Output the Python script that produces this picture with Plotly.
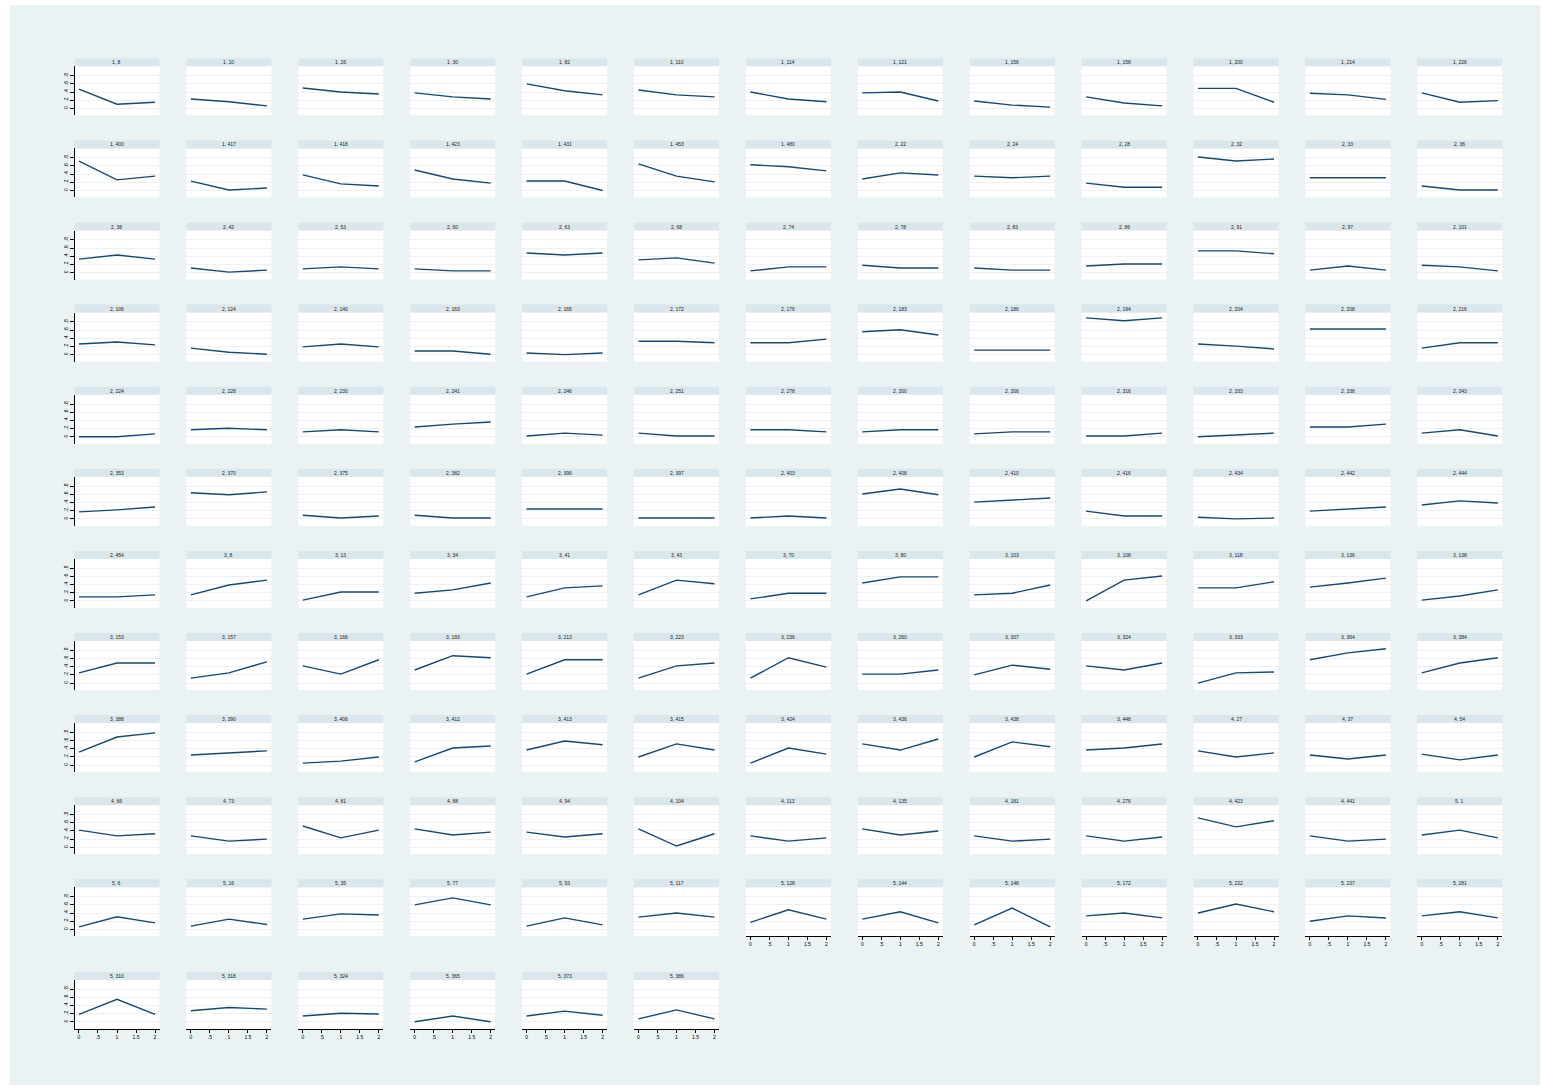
import math
import plotly.graph_objects as go

W, H = 1542, 1086

# x positions of the three observations in every panel
x_values = [0, 1, 2]

# axis ticks
y_ticks = [0, 0.2, 0.4, 0.6, 0.8]
y_tick_text = ["0", ".2", ".4", ".6", ".8"]
x_ticks = [0, 0.5, 1, 1.5, 2]
x_tick_text = ["0", ".5", "1", "1.5", "2"]

# panel headers (group, id)
panel_labels = [
    "1, 8", "1, 10", "1, 26", "1, 30", "1, 82", "1, 110", "1, 114", "1, 121", "1, 156", "1, 158", "1, 200", "1, 214", "1, 226",
    "1, 400", "1, 417", "1, 418", "1, 423", "1, 431", "1, 453", "1, 480", "2, 22", "2, 24", "2, 28", "2, 32", "2, 33", "2, 36",
    "2, 38", "2, 42", "2, 53", "2, 60", "2, 63", "2, 68", "2, 74", "2, 78", "2, 83", "2, 86", "2, 91", "2, 97", "2, 101",
    "2, 106", "2, 124", "2, 140", "2, 163", "2, 165", "2, 172", "2, 176", "2, 183", "2, 186", "2, 194", "2, 204", "2, 208", "2, 216",
    "2, 224", "2, 228", "2, 230", "2, 241", "2, 246", "2, 251", "2, 278", "2, 300", "2, 306", "2, 316", "2, 333", "2, 338", "2, 343",
    "2, 353", "2, 370", "2, 375", "2, 382", "2, 396", "2, 397", "2, 403", "2, 408", "2, 410", "2, 416", "2, 434", "2, 442", "2, 444",
    "2, 454", "3, 8", "3, 13", "3, 34", "3, 41", "3, 43", "3, 70", "3, 80", "3, 103", "3, 108", "3, 118", "3, 136", "3, 138",
    "3, 153", "3, 157", "3, 166", "3, 193", "3, 213", "3, 223", "3, 236", "3, 260", "3, 307", "3, 324", "3, 333", "3, 364", "3, 384",
    "3, 388", "3, 390", "3, 406", "3, 412", "3, 413", "3, 415", "3, 424", "3, 436", "3, 438", "3, 448", "4, 27", "4, 37", "4, 54",
    "4, 66", "4, 73", "4, 81", "4, 88", "4, 94", "4, 104", "4, 113", "4, 135", "4, 181", "4, 276", "4, 423", "4, 441", "5, 1",
    "5, 6", "5, 16", "5, 35", "5, 77", "5, 93", "5, 117", "5, 128", "5, 144", "5, 148", "5, 172", "5, 222", "5, 237", "5, 281",
    "5, 310", "5, 318", "5, 324", "5, 365", "5, 373", "5, 386",
]

# value at x = 0
value_t0 = [
    .47, .23, .50, .38, .60, .45, .40, .38, .18, .28, .49, .37, .38,
    .72, .23, .38, .50, .23, .65, .63, .28, .35, .18, .82, .31, .11,
    .33, .11, .09, .09, .48, .31, .04, .18, .11, .16, .53, .06, .18,
    .26, .16, .19, .09, .04, .33, .29, .56, .11, .90, .26, .63, .16,
    .00, .17, .12, .24, .02, .09, .17, .12, .07, .02, .00, .24, .09,
    .17, .64, .09, .09, .24, .02, .02, .61, .41, .19, .04, .19, .34,
    .10, .15, .02, .19, .10, .15, .05, .44, .15, .00, .32, .34, .02,
    .25, .12, .42, .32, .22, .12, .12, .22, .20, .42, .00, .57, .25,
    .32, .25, .05, .08, .37, .20, .05, .52, .20, .37, .35, .25, .27,
    .42, .28, .52, .45, .37, .45, .28, .45, .28, .28, .72, .28, .30,
    .06, .08, .25, .60, .08, .30, .17, .25, .11, .33, .40, .20, .33,
    .18, .27, .14, .00, .14, .07,
]

# value at x = 1
value_t1 = [
    .10, .16, .40, .28, .43, .33, .23, .40, .08, .13, .49, .33, .15,
    .26, .01, .16, .28, .23, .35, .58, .43, .31, .08, .72, .31, .01,
    .43, .01, .14, .04, .43, .36, .14, .11, .06, .21, .53, .16, .14,
    .31, .06, .26, .09, .00, .33, .29, .61, .11, .83, .21, .63, .29,
    .00, .21, .17, .31, .09, .02, .17, .17, .12, .02, .04, .24, .17,
    .22, .59, .02, .02, .24, .02, .07, .73, .46, .07, .00, .24, .44,
    .10, .39, .22, .27, .32, .51, .19, .59, .19, .51, .32, .44, .12,
    .49, .25, .22, .67, .57, .42, .62, .22, .44, .32, .25, .74, .49,
    .69, .30, .10, .42, .59, .52, .42, .37, .57, .42, .20, .15, .13,
    .28, .15, .23, .30, .25, .03, .15, .30, .15, .15, .50, .15, .42,
    .31, .25, .38, .77, .28, .40, .48, .43, .52, .40, .62, .33, .43,
    .55, .35, .21, .14, .26, .29,
]

# value at x = 2
value_t2 = [
    .15, .06, .35, .23, .33, .28, .16, .18, .03, .06, .15, .22, .19,
    .35, .06, .11, .18, .00, .21, .48, .38, .35, .08, .77, .31, .01,
    .33, .06, .09, .04, .48, .23, .14, .11, .06, .21, .46, .06, .04,
    .24, .01, .19, .01, .04, .29, .38, .48, .11, .90, .14, .63, .29,
    .07, .17, .12, .36, .04, .02, .12, .17, .12, .09, .09, .31, .02,
    .29, .66, .07, .02, .24, .02, .02, .59, .51, .07, .02, .29, .39,
    .15, .51, .22, .44, .37, .42, .19, .59, .39, .61, .47, .56, .27,
    .49, .52, .57, .62, .57, .49, .39, .32, .34, .49, .27, .84, .62,
    .79, .35, .20, .47, .50, .37, .27, .64, .45, .52, .30, .25, .25,
    .33, .20, .42, .37, .33, .33, .23, .40, .20, .25, .65, .20, .23,
    .16, .12, .35, .60, .11, .30, .25, .16, .06, .28, .43, .28, .28,
    .18, .31, .19, .00, .16, .07,
]

# colours of the by-graph
REGION_BG = "#EAF2F3"
STRIP_BG = "#D9E6EB"
GRID = "#EAF2F3"
LINE = "#1A476F"
FONT = "Liberation Sans"

NCOL = 13
PANEL_W = 85.0
COL_STEP = 111.9
FIRST_LEFT = 74.5
STRIP_H = 8.0
PLOT_H = 49.0
X_RANGE = [-0.118, 2.118]
Y_RANGE = [-0.17, 1.03]


def strip_top(row):
    # the last row sits lower to leave room for the x axes of the row above
    return 58.3 + 82.1 * row if row < 11 else 971.7


fig = go.Figure()
n = len(panel_labels)
shapes = []
annotations = []
layout_axes = {}

for i in range(n):
    r, c = divmod(i, NCOL)
    k = i + 1
    left = FIRST_LEFT + COL_STEP * c
    right = left + PANEL_W
    s_top = strip_top(r)
    p_top = s_top + STRIP_H
    p_bot = p_top + PLOT_H
    bottom_of_col = i + NCOL >= n
    first_col = c == 0

    fig.add_trace(go.Scatter(
        x=x_values,
        y=[value_t0[i], value_t1[i], value_t2[i]],
        mode="lines",
        line=dict(color=LINE, width=1.4),
        xaxis=f"x{k}", yaxis=f"y{k}",
        showlegend=False, hoverinfo="skip",
    ))

    layout_axes[f"xaxis{k}"] = dict(
        domain=[left / W, right / W], anchor=f"y{k}", range=X_RANGE,
        showgrid=False, zeroline=False,
        showline=bottom_of_col, linecolor="black", linewidth=1,
        ticks="outside" if bottom_of_col else "", ticklen=3, tickcolor="black",
        showticklabels=bottom_of_col,
        tickmode="array", tickvals=x_ticks, ticktext=x_tick_text,
        tickfont=dict(family=FONT, size=5, color="black"),
        fixedrange=True,
    )
    layout_axes[f"yaxis{k}"] = dict(
        domain=[1 - p_bot / H, 1 - p_top / H], anchor=f"x{k}", range=Y_RANGE,
        showgrid=True, gridcolor=GRID, gridwidth=1, zeroline=False,
        showline=first_col, linecolor="black", linewidth=1,
        ticks="outside" if first_col else "", ticklen=4, tickcolor="black",
        showticklabels=first_col, tickangle=-90,
        tickmode="array", tickvals=y_ticks, ticktext=y_tick_text,
        tickfont=dict(family=FONT, size=5, color="black"),
        fixedrange=True,
    )

    # header strip with the panel label
    shapes.append(dict(
        type="rect", xref="paper", yref="paper",
        x0=left / W, x1=right / W,
        y0=1 - (s_top + STRIP_H) / H, y1=1 - s_top / H,
        fillcolor=STRIP_BG, line=dict(width=0), layer="below",
    ))
    annotations.append(dict(
        text=panel_labels[i], xref="paper", yref="paper",
        x=(left + right) / 2 / W, y=1 - (s_top + STRIP_H / 2) / H,
        xanchor="center", yanchor="middle", showarrow=False,
        font=dict(family=FONT, size=5, color="#222222"),
    ))

# white page border around the graph region
for x0, y0, x1, y1 in [(0, 0, W, 5), (0, 1085, W, H), (0, 0, 9.5, H), (1540, 0, W, H)]:
    shapes.append(dict(
        type="rect", xref="paper", yref="paper",
        x0=x0 / W, x1=x1 / W, y0=1 - y1 / H, y1=1 - y0 / H,
        fillcolor="white", line=dict(width=0), layer="above",
    ))

fig.update_layout(
    width=W, height=H,
    margin=dict(l=0, r=0, t=0, b=0),
    paper_bgcolor=REGION_BG,
    plot_bgcolor="white",
    shapes=shapes,
    annotations=annotations,
    **layout_axes,
)

fig.write_html("out.html")
